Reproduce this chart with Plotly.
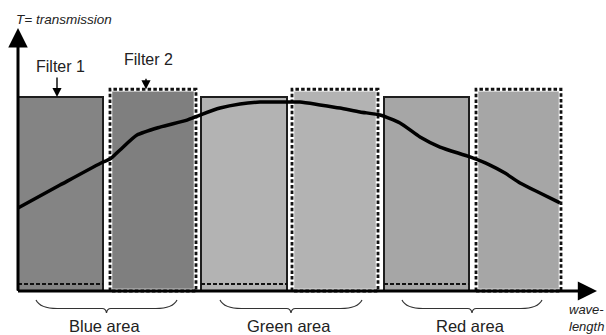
import plotly.graph_objects as go

# ---------------- data ----------------
filter_names = ["Blue filter 1", "Blue filter 2", "Green filter 1",
                "Green filter 2", "Red filter 1", "Red filter 2"]
filter_lo = [0, 92, 183, 274, 366, 458]        # wavelength units
filter_hi = [85, 178, 269, 360, 451, 543]
filter_peak = [1.0, 1.04, 1.0, 1.04, 1.0, 1.04]  # transmission
filter_kind = [1, 2, 1, 2, 1, 2]
leak_level = 0.036                              # filter-2 leakage level

curve_x = [0, 42, 85, 92, 102, 119, 142, 169, 182, 202, 222, 242, 262, 282,
           302, 322, 342, 362, 382, 402, 422, 452, 472, 487, 502, 522, 542]
curve_t = [0.428, 0.546, 0.665, 0.680, 0.727, 0.804, 0.845, 0.881, 0.907,
           0.943, 0.964, 0.974, 0.974, 0.974, 0.959, 0.943, 0.923, 0.907,
           0.866, 0.794, 0.742, 0.691, 0.649, 0.608, 0.557, 0.505, 0.454]

area_names = ["Blue area", "Green area", "Red area"]
area_lo = [18, 202, 384]
area_hi = [159, 344, 524]

axis_end_x = 579
axis_end_t = 1.356

# ---------------- styles ----------------
fill_colors = ["#848484", "#7f7f7f", "#b3b3b3", "#b3b3b3", "#a6a6a6", "#a6a6a6"]
FONT = "Arial, Liberation Sans, sans-serif"

fig = go.Figure()

for name, lo, hi, pk, kind, col in zip(filter_names, filter_lo, filter_hi,
                                       filter_peak, filter_kind, fill_colors):
    xs = [lo, lo, hi, hi, lo]
    ys = [0, pk, pk, 0, 0]
    if kind == 1:
        fig.add_trace(go.Scatter(x=xs, y=ys, mode="lines", fill="toself",
                                 fillcolor=col, line=dict(color="#1e1e1e", width=2),
                                 name=name, hoverinfo="skip"))
    else:
        fig.add_trace(go.Scatter(x=xs, y=ys, mode="lines", fill="toself",
                                 fillcolor=col, line=dict(color="white", width=4.5),
                                 name=name, hoverinfo="skip"))
        fig.add_trace(go.Scatter(x=xs, y=ys, mode="lines",
                                 line=dict(color="#111111", width=2.8, dash="3.5px,2.2px"),
                                 name=name, hoverinfo="skip"))

# leakage of filter 2 seen in filter 1 bands
for lo, hi, kind in zip(filter_lo, filter_hi, filter_kind):
    if kind == 1:
        fig.add_trace(go.Scatter(x=[lo, hi], y=[leak_level, leak_level], mode="lines",
                                 line=dict(color="#111111", width=2, dash="4px,2px"),
                                 hoverinfo="skip"))

# transmission curve
fig.add_trace(go.Scatter(x=curve_x, y=curve_t, mode="lines",
                         line=dict(color="black", width=3.5, shape="spline", smoothing=0.6),
                         hoverinfo="skip"))

annotations = []
# axes as arrows
annotations.append(dict(x=0, y=axis_end_t, ax=0, ay=-0.005, axref="x", ayref="y",
                        xref="x", yref="y", text="", showarrow=True,
                        arrowhead=2, arrowwidth=3, arrowsize=1.3, arrowcolor="black"))
annotations.append(dict(x=axis_end_x, y=0, ax=-1.5, ay=0, axref="x", ayref="y",
                        xref="x", yref="y", text="", showarrow=True,
                        arrowhead=2, arrowwidth=3.2, arrowsize=1.2, arrowcolor="black"))

annotations.append(dict(x=46, y=1.397, xref="x", yref="y", text="<i>T= transmission</i>",
                        showarrow=False, font=dict(family=FONT, size=13.5, color="#222"),
                        xanchor="center", yanchor="middle"))

# filter labels
annotations.append(dict(x=42, y=1.155, xref="x", yref="y", text="Filter 1",
                        showarrow=False, font=dict(family=FONT, size=16, color="#222"),
                        xanchor="center", yanchor="middle"))
annotations.append(dict(x=130, y=1.191, xref="x", yref="y", text="Filter 2",
                        showarrow=False, font=dict(family=FONT, size=16, color="#222"),
                        xanchor="center", yanchor="middle"))
annotations.append(dict(x=39, y=filter_peak[0], xref="x", yref="y", text="",
                        ax=0, ay=-21, showarrow=True, arrowhead=2, arrowwidth=1.4,
                        arrowsize=1.3, arrowcolor="black"))
annotations.append(dict(x=128, y=filter_peak[1], xref="x", yref="y", text="",
                        ax=0, ay=-12, showarrow=True, arrowhead=2, arrowwidth=1.4,
                        arrowsize=1.3, arrowcolor="black"))

# braces + area labels
shapes = []
y0, y1, yc = -0.0464, -0.0902, -0.1134
for name, a, b in zip(area_names, area_lo, area_hi):
    w = b - a
    c = (a + b) / 2
    path = (f"M {a},{y0} Q {a + 0.03 * w},{y1} {a + 0.15 * w},{y1} "
            f"L {c - 0.03 * w},{y1} Q {c - 0.005 * w},{y1} {c},{yc} "
            f"Q {c + 0.005 * w},{y1} {c + 0.03 * w},{y1} "
            f"L {b - 0.15 * w},{y1} Q {b - 0.03 * w},{y1} {b},{y0}")
    shapes.append(dict(type="path", path=path, xref="x", yref="y",
                       line=dict(color="#333", width=1.2)))
    annotations.append(dict(x=c - 2, y=-0.180, xref="x", yref="y", text=name,
                            showarrow=False, font=dict(family=FONT, size=16.5, color="#222"),
                            xanchor="center", yanchor="middle"))

annotations.append(dict(x=550, y=-0.2265, xref="x", yref="y", text="<i>wave-<br>length</i>",
                        showarrow=False, font=dict(family=FONT, size=13, color="#222"),
                        xanchor="left", yanchor="bottom", align="left", borderpad=0))

fig.update_layout(
    width=606, height=335,
    margin=dict(l=0, r=0, t=0, b=0),
    paper_bgcolor="white", plot_bgcolor="white",
    showlegend=False,
    xaxis=dict(range=[-18, 588], visible=False, fixedrange=True),
    yaxis=dict(range=[-0.2268, 1.5], visible=False, fixedrange=True),
    annotations=annotations,
    shapes=shapes,
)

fig.write_html("out.html", config={"displayModeBar": False},
               post_script="document.body.style.margin='0';document.body.style.overflow='hidden';")
